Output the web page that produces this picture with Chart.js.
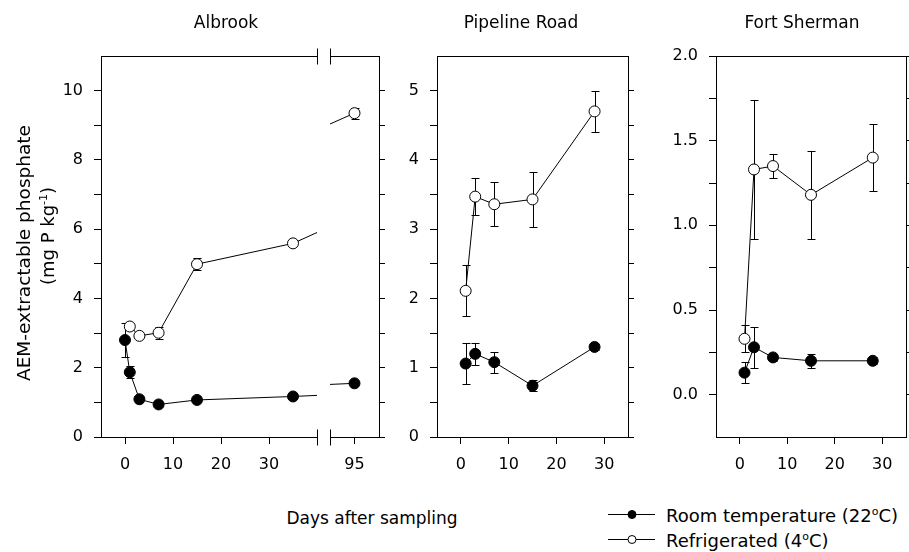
<!DOCTYPE html>
<html><head><meta charset="utf-8">
<script src="https://cdn.jsdelivr.net/npm/chart.js@4"></script>
<style>
html,body{margin:0;padding:0;}
body{width:909px;height:552px;background:#fff;position:relative;overflow:hidden;font-family:"DejaVu Sans",sans-serif;color:#000;}
canvas{position:absolute;}
.t{position:absolute;white-space:nowrap;font-size:17px;line-height:1;transform:translate(-50%,-50%);}
.rot{transform:translate(-50%,-50%) rotate(-90deg);}
.leg{position:absolute;white-space:nowrap;font-size:18px;line-height:1;transform:translateY(-50%);}
</style></head><body>
<canvas id="albrookA"></canvas>
<canvas id="albrookB"></canvas>
<canvas id="pipeline"></canvas>
<canvas id="sherman"></canvas>

<div class="t" style="left:226px;top:22px;">Albrook</div>
<div class="t" style="left:521px;top:22px;">Pipeline Road</div>
<div class="t" style="left:802px;top:22px;">Fort Sherman</div>
<div class="t rot" style="left:24px;top:253px;font-size:18.5px;">AEM-extractable phosphate</div>
<div class="t rot" style="left:47px;top:236px;font-size:18px;">(mg P kg<sup style="font-size:11px;">-1</sup>)</div>
<div class="t" style="left:372px;top:518px;">Days after sampling</div>

<svg style="position:absolute;left:600px;top:500px;" width="70" height="50">
  <line x1="8" y1="14.5" x2="55" y2="14.5" stroke="#000" stroke-width="1"/>
  <circle cx="32" cy="14.5" r="4" fill="#000" stroke="#000"/>
  <line x1="8" y1="39.5" x2="55" y2="39.5" stroke="#000" stroke-width="1"/>
  <circle cx="32" cy="39.5" r="4" fill="#fff" stroke="#000"/>
</svg>
<div class="leg" style="left:666px;top:515px;">Room temperature (22<sup style="font-size:11px;">o</sup>C)</div>
<div class="leg" style="left:666px;top:540px;">Refrigerated (4<sup style="font-size:11px;">o</sup>C)</div>

<script>
// ---- data ----
const albrookRoomDays = [0, 1, 3, 7, 15, 35, 95];
const albrookRoomValues = [2.80, 1.87, 1.09, 0.94, 1.07, 1.17, 1.55];
const albrookRoomErrors = [0.48, 0.18, 0.05, 0.05, 0.05, 0.04, 0.05];
const albrookFridgeDays = [1, 3, 7, 15, 35, 95];
const albrookFridgeValues = [3.19, 2.92, 3.01, 4.99, 5.59, 9.35];
const albrookFridgeErrors = [0.10, 0.05, 0.18, 0.18, 0.05, 0.16];

const pipelineDays = [1, 3, 7, 15, 28];
const pipelineRoomValues = [1.06, 1.20, 1.08, 0.74, 1.30];
const pipelineRoomErrors = [0.29, 0.16, 0.15, 0.08, 0.04];
const pipelineFridgeValues = [2.11, 3.47, 3.36, 3.43, 4.70];
const pipelineFridgeErrors = [0.37, 0.27, 0.32, 0.40, 0.30];

const shermanDays = [1, 3, 7, 15, 28];
const shermanRoomValues = [0.13, 0.28, 0.22, 0.20, 0.20];
const shermanRoomErrors = [0.06, 0.12, 0.02, 0.04, 0.02];
const shermanFridgeValues = [0.33, 1.33, 1.35, 1.18, 1.40];
const shermanFridgeErrors = [0.08, 0.41, 0.07, 0.26, 0.20];

const dayTicks = [0, 10, 20, 30];
const albrookLateTicks = [95];
const albrookYLabels = [0, 2, 4, 6, 8, 10];
const albrookYMinor = [1, 3, 5, 7, 9];
const pipelineYLabels = [0, 1, 2, 3, 4, 5];
const pipelineYMinor = [0.5, 1.5, 2.5, 3.5, 4.5];
const shermanYLabels = [0, 0.5, 1, 1.5, 2];
const shermanYMinor = [0.25, 0.75, 1.25, 1.75];

const roomLabel = 'Room temperature (22°C)';
const fridgeLabel = 'Refrigerated (4°C)';

// ---- helpers ----
const tickFont = { family: 'DejaVu Sans', size: 16 };
const LEFT_W = 70, RIGHT_W = 12, TOP_PAD = 26, BOTTOM_H = 50, SIDE_PAD = 10;

function pts(days, vals) { return days.map((d, i) => ({ x: d, y: vals[i] })); }

function series(label, days, vals, errs, filled, clip) {
  return {
    label, data: pts(days, vals), errors: errs,
    borderColor: '#000', backgroundColor: filled ? '#000' : '#fff',
    pointBackgroundColor: filled ? '#000' : '#fff', pointBorderColor: '#000',
    pointRadius: 5.5, pointBorderWidth: 1, borderWidth: 1, tension: 0,
    fill: false, clip: clip
  };
}

function yScale(min, max, labels, minor, position, showLabels, decimals) {
  const all = labels.concat(minor).sort((a, b) => a - b);
  return {
    type: 'linear', min, max, position,
    afterBuildTicks: s => { s.ticks = all.map(v => ({ value: v })); },
    ticks: {
      autoSkip: false, font: tickFont, color: '#000', padding: 11,
      callback: v => (showLabels && labels.some(l => Math.abs(l - v) < 1e-9)) ? (decimals ? v.toFixed(decimals) : String(v)) : ''
    },
    grid: { drawOnChartArea: false, drawTicks: true, tickLength: position === 'left' ? 7 : 6, color: '#000', lineWidth: 1 },
    border: { display: true, color: '#000', width: 1 },
    afterFit: s => { s.width = position === 'left' ? LEFT_W : RIGHT_W; }
  };
}

function xScale(min, max, tickVals) {
  return {
    type: 'linear', min, max, position: 'bottom',
    afterBuildTicks: s => { s.ticks = tickVals.map(v => ({ value: v })); },
    ticks: { autoSkip: false, maxRotation: 0, font: tickFont, color: '#000', padding: 11, callback: v => String(v) },
    grid: { drawOnChartArea: false, drawTicks: true, tickLength: 7, color: '#000', lineWidth: 1 },
    border: { display: true, color: '#000', width: 1 },
    afterFit: s => { s.height = BOTTOM_H; }
  };
}

const framePlugin = {
  id: 'frame',
  afterDraw(chart, args, opts) {
    const { ctx, chartArea: a } = chart;
    ctx.save();
    ctx.strokeStyle = '#000'; ctx.lineWidth = 1;
    const top = Math.round(a.top) + 0.5, bot = Math.round(a.bottom) + 0.5;
    ctx.beginPath(); ctx.moveTo(a.left, top); ctx.lineTo(a.right + 0.5, top); ctx.stroke();
    if (opts && opts.breakSide) {
      const bx = (opts.breakSide === 'right' ? Math.round(a.right) : Math.round(a.left)) + 0.5;
      ctx.beginPath();
      ctx.moveTo(bx, top - 8); ctx.lineTo(bx, top + 8);
      ctx.moveTo(bx, bot - 8); ctx.lineTo(bx, bot + 8);
      ctx.stroke();
    }
    ctx.restore();
  }
};

const errorBarPlugin = {
  id: 'errorBars',
  beforeDatasetsDraw(chart) {
    const { ctx, chartArea: a } = chart;
    const x = chart.scales.x, y = chart.scales.y;
    ctx.save();
    ctx.beginPath(); ctx.rect(a.left, a.top - 10, a.right - a.left, a.bottom - a.top + 20); ctx.clip();
    ctx.strokeStyle = '#000'; ctx.lineWidth = 1;
    chart.data.datasets.forEach(ds => {
      if (!ds.errors) return;
      ds.data.forEach((p, i) => {
        const e = ds.errors[i];
        if (p.x < x.min || p.x > x.max) return;
        const px = Math.round(x.getPixelForValue(p.x)) + 0.5;
        const y1 = Math.round(y.getPixelForValue(p.y + e)) + 0.5;
        const y2 = Math.round(y.getPixelForValue(p.y - e)) + 0.5;
        ctx.beginPath();
        ctx.moveTo(px, y1); ctx.lineTo(px, y2);
        ctx.moveTo(px - 4, y1); ctx.lineTo(px + 4, y1);
        ctx.moveTo(px - 4, y2); ctx.lineTo(px + 4, y2);
        ctx.stroke();
      });
    });
    ctx.restore();
  }
};
Chart.register(framePlugin, errorBarPlugin);

function makeChart(id, area, hasLeft, hasRight, scales, datasets, frameOpts) {
  const [L, T, R, B] = area;
  const lw = hasLeft ? LEFT_W : SIDE_PAD, rw = hasRight ? RIGHT_W : SIDE_PAD;
  const cv = document.getElementById(id);
  const w = R - L + lw + rw, h = B - T + TOP_PAD + BOTTOM_H;
  cv.width = w; cv.height = h;
  cv.style.left = (L - lw) + 'px'; cv.style.top = (T - TOP_PAD) + 'px';
  cv.style.width = w + 'px'; cv.style.height = h + 'px';
  return new Chart(cv, {
    type: 'line',
    data: { datasets },
    options: {
      responsive: false, animation: false, devicePixelRatio: 1,
      layout: { padding: { left: hasLeft ? 0 : SIDE_PAD, right: hasRight ? 0 : SIDE_PAD, top: TOP_PAD, bottom: 0 } },
      plugins: { legend: { display: false }, tooltip: { enabled: false }, frame: frameOpts || {} },
      scales
    }
  });
}

const clipEdgeRight = { left: 8, top: 8, right: 0, bottom: 8 };
const clipEdgeLeft = { left: 0, top: 8, right: 8, bottom: 8 };
const clipFree = { left: 8, top: 8, right: 8, bottom: 8 };

// Albrook, early section
makeChart('albrookA', [101, 56, 317, 437], true, false, {
  x: xScale(-5, 40, dayTicks),
  y: yScale(0, 11, albrookYLabels, albrookYMinor, 'left', true, 0)
}, [
  series(roomLabel, albrookRoomDays, albrookRoomValues, albrookRoomErrors, true, clipEdgeRight),
  series(fridgeLabel, albrookFridgeDays, albrookFridgeValues, albrookFridgeErrors, false, clipEdgeRight)
], { breakSide: 'right' });

// Albrook, late section (after axis break)
makeChart('albrookB', [330, 56, 379, 437], false, true, {
  x: xScale(90, 100, albrookLateTicks),
  y: yScale(0, 11, albrookYLabels, albrookYMinor, 'right', false, 0)
}, [
  series(roomLabel, albrookRoomDays, albrookRoomValues, albrookRoomErrors, true, clipEdgeLeft),
  series(fridgeLabel, albrookFridgeDays, albrookFridgeValues, albrookFridgeErrors, false, clipEdgeLeft)
], { breakSide: 'left' });

// Pipeline Road
makeChart('pipeline', [437, 56, 628, 437], true, true, {
  x: xScale(-5, 35, dayTicks),
  y: yScale(0, 5.5, pipelineYLabels, pipelineYMinor, 'left', true, 0),
  y2: yScale(0, 5.5, pipelineYLabels, pipelineYMinor, 'right', false, 0)
}, [
  series(roomLabel, pipelineDays, pipelineRoomValues, pipelineRoomErrors, true, clipFree),
  series(fridgeLabel, pipelineDays, pipelineFridgeValues, pipelineFridgeErrors, false, clipFree)
]);

// Fort Sherman
makeChart('sherman', [716, 56, 906, 437], true, true, {
  x: xScale(-5, 35, dayTicks),
  y: yScale(-0.25, 2.0, shermanYLabels, shermanYMinor, 'left', true, 1),
  y2: yScale(-0.25, 2.0, shermanYLabels, shermanYMinor, 'right', false, 1)
}, [
  series(roomLabel, shermanDays, shermanRoomValues, shermanRoomErrors, true, clipFree),
  series(fridgeLabel, shermanDays, shermanFridgeValues, shermanFridgeErrors, false, clipFree)
]);
</script>
</body></html>
